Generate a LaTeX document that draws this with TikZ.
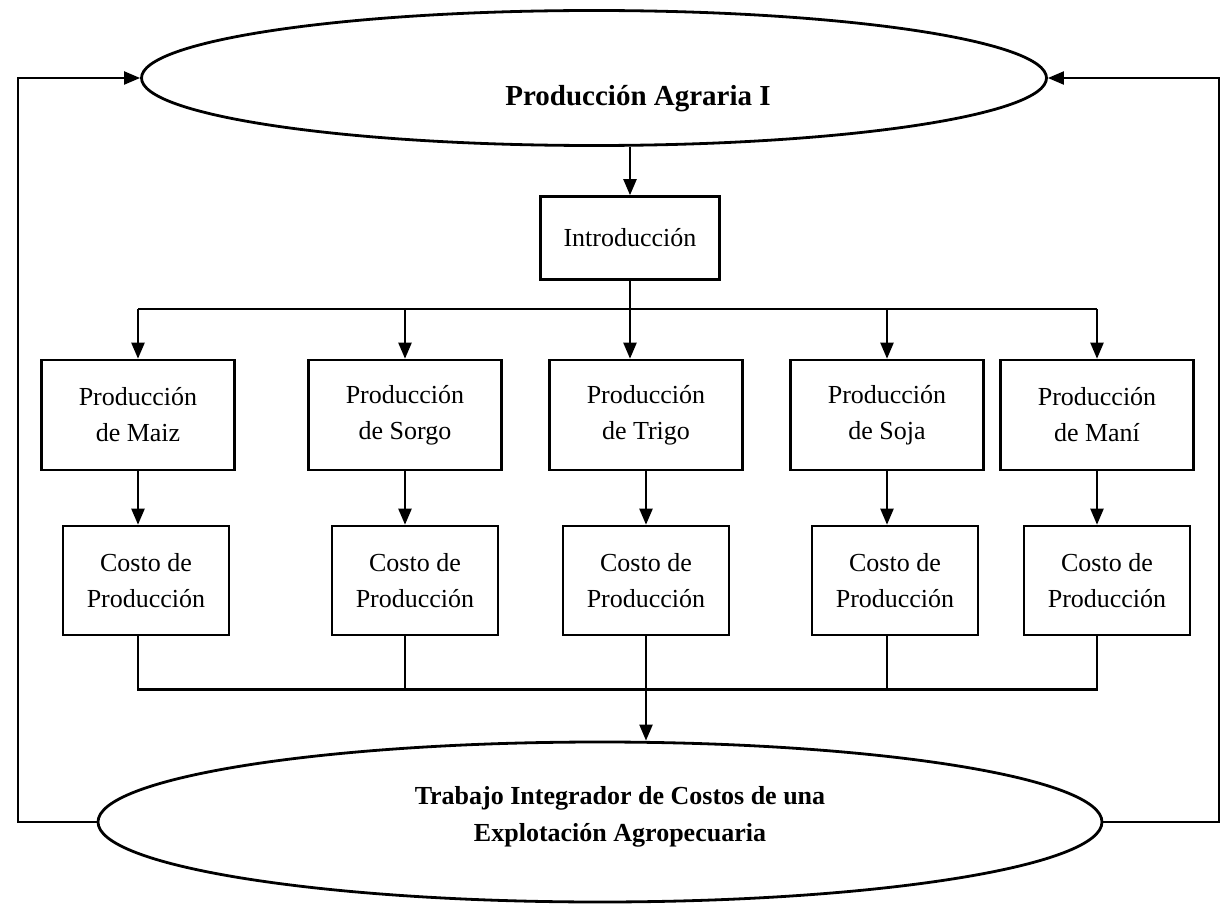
\documentclass[tikz,border=0pt]{standalone}
\usepackage{fontspec}
\setmainfont{Liberation Serif}
\usetikzlibrary{arrows.meta,shapes.geometric}

\begin{document}
\begin{tikzpicture}[x=0.5pt,y=-0.5pt,
  caja/.style={draw,line width=1.3pt,minimum width=96.5pt,minimum height=55pt,
    align=center,inner sep=0pt,font=\fontsize{13}{18}\selectfont},
  costo/.style={caja,minimum width=83pt,minimum height=54.5pt},
  elipse/.style={draw,ellipse,line width=1.4pt,inner sep=0pt},
  flecha/.style={line width=1.1pt,-{Triangle[length=8pt,width=6.5pt]}},
  linea/.style={line width=1.1pt}]
  \useasboundingbox (0,0) rectangle (1222,904);
  \node[elipse,minimum width=452.5pt,minimum height=67.5pt] (agraria) at (594,78) {};
  \node[font=\bfseries\fontsize{14.5}{17}\selectfont] (agrariatxt) at (638,99) {Producción Agraria I};
  \node[caja,minimum width=89.5pt,minimum height=41.5pt] (intro) at (630,238) {Introducción};
  \node[caja] (pmaiz) at (138,415) {Producción\\de Maiz};
  \node[caja] (psorgo) at (405,415) {Producción\\de Sorgo};
  \node[caja] (ptrigo) at (646,415) {Producción\\de Trigo};
  \node[caja] (psoja) at (887,415) {Producción\\de Soja};
  \node[caja] (pmani) at (1097,415) {Producción\\de Maní};
  \node[costo] (cmaiz) at (146,580.5) {Costo de\\Producción};
  \node[costo] (csorgo) at (415,580.5) {Costo de\\Producción};
  \node[costo] (ctrigo) at (646,580.5) {Costo de\\Producción};
  \node[costo] (csoja) at (895,580.5) {Costo de\\Producción};
  \node[costo] (cmani) at (1107,580.5) {Costo de\\Producción};
  \node[elipse,minimum width=502pt,minimum height=80pt] (trabajo) at (600,822) {};
  \node[font=\bfseries\fontsize{13}{18.5}\selectfont,align=center] (trabajotxt) at (620,817)
    {Trabajo Integrador de Costos de una\\Explotación Agropecuaria};
  \coordinate (bus) at (0,309);
  \coordinate (junta) at (0,689.5);
  \coordinate (izq) at (18,0);
  \coordinate (der) at (1219,0);
  % arriba
  \draw[flecha] (agraria.south -| intro.north) -- (intro.north);
  \draw[flecha] (intro.south) -- (intro.south |- ptrigo.north);
  \draw[linea] (bus -| pmaiz) -- (bus -| pmani);
  \draw[flecha] (bus -| pmaiz) -- (pmaiz.north);
  \draw[flecha] (bus -| psorgo) -- (psorgo.north);
  \draw[flecha] (bus -| psoja) -- (psoja.north);
  \draw[flecha] (bus -| pmani) -- (pmani.north);
  % produccion a costo
  \draw[flecha] (pmaiz.south) -- (pmaiz.south |- cmaiz.north);
  \draw[flecha] (psorgo.south) -- (psorgo.south |- csorgo.north);
  \draw[flecha] (ptrigo.south) -- (ptrigo.south |- ctrigo.north);
  \draw[flecha] (psoja.south) -- (psoja.south |- csoja.north);
  \draw[flecha] (pmani.south) -- (pmani.south |- cmani.north);
  % abajo
  \draw[linea] (cmaiz.south -| pmaiz) -- (junta -| pmaiz) -- (junta -| pmani) -- (cmani.south -| pmani);
  \draw[linea] (csorgo.south -| psorgo) -- (junta -| psorgo);
  \draw[linea] (csoja.south -| psoja) -- (junta -| psoja);
  \draw[flecha] (ctrigo.south) -- (ctrigo.south |- trabajo.north);
  % lazos
  \draw[flecha] (trabajo.west) -- (trabajo.west -| izq) -- (agraria.west -| izq) -- (agraria.west);
  \draw[flecha] (trabajo.east) -- (trabajo.east -| der) -- (agraria.east -| der) -- (agraria.east);
\end{tikzpicture}
\end{document}
